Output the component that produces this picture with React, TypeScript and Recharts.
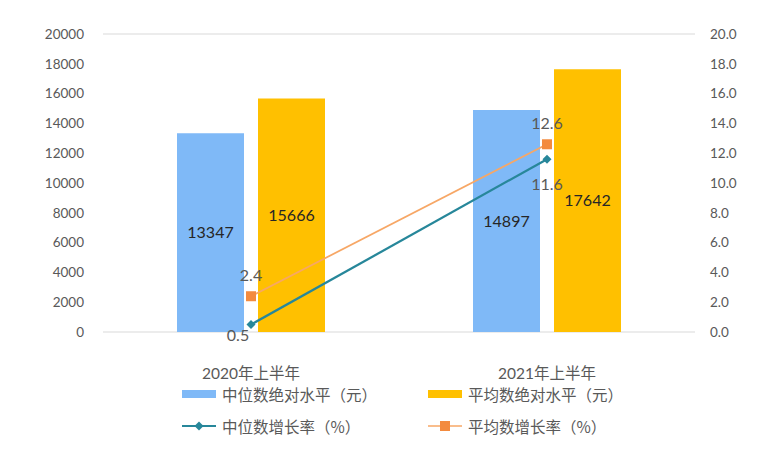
import { ComposedChart, Bar, Line, XAxis, YAxis, CartesianGrid, Legend, LabelList } from 'recharts';

const categories = ['2020年上半年', '2021年上半年'];
const medianLevel = [13347, 14897];
const meanLevel = [15666, 17642];
const medianGrowth = [0.5, 11.6];
const meanGrowth = [2.4, 12.6];
const leftTicks = [0, 2000, 4000, 6000, 8000, 10000, 12000, 14000, 16000, 18000, 20000];
const rightTicks = [0, 2, 4, 6, 8, 10, 12, 14, 16, 18, 20];

const BLUE = '#7fb9f7';
const YELLOW = '#ffc000';
const TEAL = '#27879a';
const ORANGE = '#f7a766';
const ORANGE_DOT = '#f38b3f';
const FONT = 'Lato, "Noto Sans CJK SC", sans-serif';
const CJK_FONT = '"Noto Sans CJK SC", sans-serif';

const data = categories.map((name, i) => ({
  name,
  medianLevel: medianLevel[i],
  meanLevel: meanLevel[i],
  medianGrowth: medianGrowth[i],
  meanGrowth: meanGrowth[i]
}));

const legendItems = [
  { name: '中位数绝对水平（元）', kind: 'bar', color: BLUE },
  { name: '平均数绝对水平（元）', kind: 'bar', color: YELLOW },
  { name: '中位数增长率（%）', kind: 'diamond', color: TEAL },
  { name: '平均数增长率（%）', kind: 'square', color: ORANGE }
];

function DiamondDot(props: any) {
  const { cx, cy } = props;
  if (cx == null || cy == null) return null;
  return <path d={`M${cx},${cy - 4.5}L${cx + 4.5},${cy}L${cx},${cy + 4.5}L${cx - 4.5},${cy}Z`} fill={TEAL} />;
}

function SquareDot(props: any) {
  const { cx, cy } = props;
  if (cx == null || cy == null) return null;
  return <rect x={cx - 5} y={cy - 5} width={10} height={10} fill={ORANGE_DOT} />;
}

// label offsets per point, [dx, dy]
const medianLabelPos = [[-13, 10], [0, 24]];
const meanLabelPos = [[0, -22], [0, -22]];

function makeLineLabel(pos: number[][]) {
  return (props: any) => {
    const { x, y, value, index } = props;
    const [dx, dy] = pos[index] || [0, -20];
    return (
      <text x={x + dx} y={y + dy} textAnchor="middle" dominantBaseline="central"
        fill="#595959" fontSize={16} fontFamily={FONT}>
        {value}
      </text>
    );
  };
}

function CustomLegend() {
  return (
    <div style={{ position: 'relative', width: 782, height: 70, fontFamily: CJK_FONT, fontSize: 15.5, color: '#595959' }}>
      {legendItems.map((it, i) => {
        const left = i % 2 === 0 ? 182 : 428;
        const top = i < 2 ? 5 : 37;
        return (
          <div key={it.name} style={{ position: 'absolute', left, top, display: 'flex', alignItems: 'center', whiteSpace: 'nowrap' }}>
            <svg width={34} height={18} style={{ marginRight: 6 }}>
              {it.kind === 'bar' && <rect x={0} y={5} width={34} height={8} fill={it.color} />}
              {it.kind === 'diamond' && (
                <>
                  <line x1={0} y1={9} x2={34} y2={9} stroke={it.color} strokeWidth={2} />
                  <path d="M17,4.5L21.5,9L17,13.5L12.5,9Z" fill={it.color} />
                </>
              )}
              {it.kind === 'square' && (
                <>
                  <line x1={0} y1={9} x2={34} y2={9} stroke={it.color} strokeWidth={1.5} />
                  <rect x={12} y={4} width={10} height={10} fill={ORANGE_DOT} />
                </>
              )}
            </svg>
            <span>{it.name}</span>
          </div>
        );
      })}
    </div>
  );
}

export default function App() {
  return (
    <div style={{ position: 'absolute', left: 0, top: 0, background: '#fff' }}>
      <ComposedChart width={782} height={450} data={data}
        margin={{ top: 34, right: 0, bottom: 68, left: 0 }}
        barCategoryGap="25%" barGap={14}>
        <CartesianGrid vertical={false} stroke="#d9d9d9" />
        <XAxis dataKey="name" axisLine={false} tickLine={false} tickSize={0} tickMargin={36} height={50}
          tick={{ fill: '#595959', fontSize: 15.5, fontFamily: FONT }} />
        <YAxis yAxisId="left" domain={[0, 20000]} ticks={leftTicks} width={103} axisLine={false} tickLine={false}
          tickSize={0} tickMargin={19} interval={0}
          tick={{ fill: '#595959', fontSize: 13.5, fontFamily: FONT }} />
        <YAxis yAxisId="right" orientation="right" domain={[0, 20]} ticks={rightTicks} width={87} axisLine={false}
          tickLine={false} tickSize={0} tickMargin={15} interval={0}
          tickFormatter={(v: number) => v.toFixed(1)}
          tick={{ fill: '#595959', fontSize: 13.5, fontFamily: FONT }} />
        <Legend layout="horizontal" verticalAlign="middle" align="center"
          wrapperStyle={{ top: 378, left: 0, bottom: 'auto', width: 782 }}
          content={() => <CustomLegend />} />
        <Bar yAxisId="left" dataKey="medianLevel" name="中位数绝对水平（元）" fill={BLUE} isAnimationActive={false}>
          <LabelList dataKey="medianLevel" position="center" fill="#262626" fontSize={16} fontFamily={FONT} />
        </Bar>
        <Bar yAxisId="left" dataKey="meanLevel" name="平均数绝对水平（元）" fill={YELLOW} isAnimationActive={false}>
          <LabelList dataKey="meanLevel" position="center" fill="#262626" fontSize={16} fontFamily={FONT} />
        </Bar>
        <Line yAxisId="right" dataKey="medianGrowth" name="中位数增长率（%）" stroke={TEAL} strokeWidth={2.25}
          dot={<DiamondDot />} activeDot={false} isAnimationActive={false}>
          <LabelList dataKey="medianGrowth" content={makeLineLabel(medianLabelPos)} />
        </Line>
        <Line yAxisId="right" dataKey="meanGrowth" name="平均数增长率（%）" stroke={ORANGE} strokeWidth={1.75}
          dot={<SquareDot />} activeDot={false} isAnimationActive={false}>
          <LabelList dataKey="meanGrowth" content={makeLineLabel(meanLabelPos)} />
        </Line>
      </ComposedChart>
    </div>
  );
}
